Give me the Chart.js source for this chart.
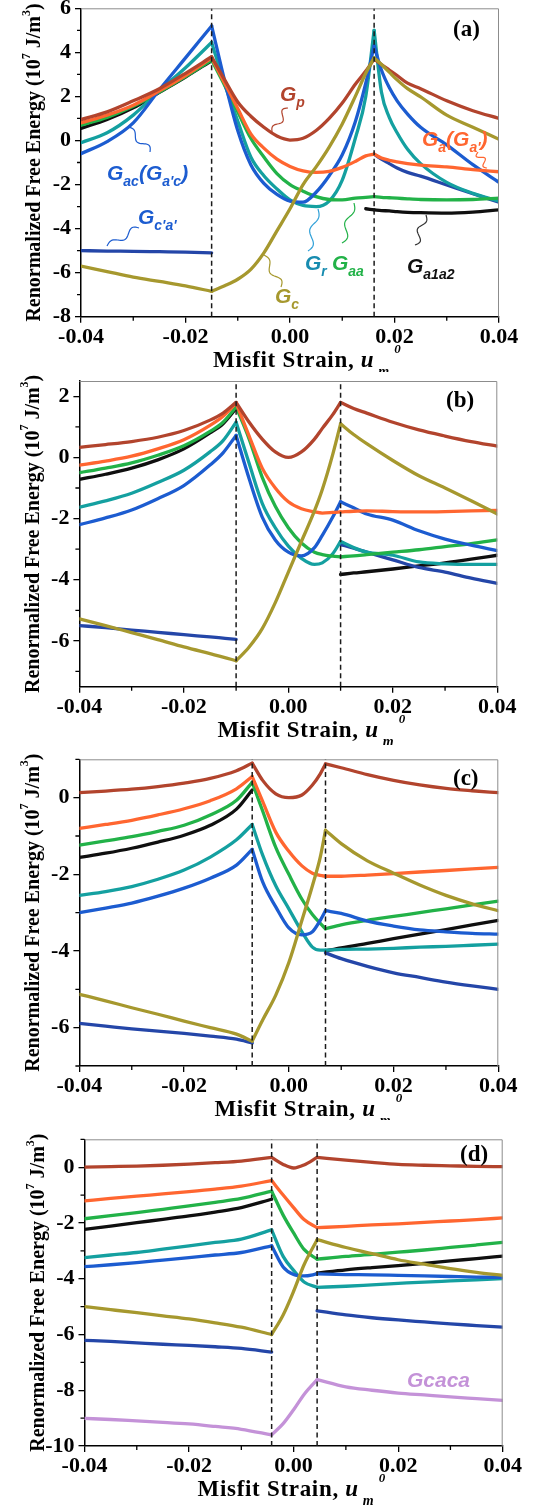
<!DOCTYPE html>
<html>
<head>
<meta charset="utf-8">
<script src="https://cdn.jsdelivr.net/npm/chart.js@4.4.1/dist/chart.umd.min.js"></script>
<style>
  html, body { margin: 0; padding: 0; background: #fff; }
  #page { position: relative; width: 534px; height: 1509px; overflow: hidden; }
  canvas { position: absolute; left: 0; }
</style>
</head>
<body>
<div id="page">
  <canvas id="panelA" width="534" height="372" style="top:0px;width:534px;height:372px"></canvas>
  <canvas id="panelB" width="534" height="373" style="top:372px;width:534px;height:373px"></canvas>
  <canvas id="panelC" width="534" height="375" style="top:745px;width:534px;height:375px"></canvas>
  <canvas id="panelD" width="534" height="389" style="top:1120px;width:534px;height:389px"></canvas>
</div>
<script>
// shared x axis
const xTicks = [-0.04, -0.02, 0, 0.02, 0.04];
const xMinor = [-0.03, -0.01, 0.01, 0.03];

// ---- panel (a) ----
const aStrain = [-0.04, -0.035, -0.03, -0.025, -0.02, -0.015, -0.0125, -0.01, -0.0075, -0.005, -0.0025, 0, 0.0025, 0.005, 0.0075, 0.01, 0.0125, 0.0145, 0.0161, 0.0175, 0.019, 0.0205, 0.0225, 0.025, 0.03, 0.035, 0.04];
const aGp    = [0.95, 1.3, 1.8, 2.35, 3.05, 3.8, 2.75, 1.75, 1.1, 0.6, 0.2, 0.02, 0.1, 0.45, 1.0, 1.7, 2.55, 3.15, 3.7, 3.45, 3.2, 2.95, 2.6, 2.35, 1.8, 1.35, 1.0];
const aGa    = [0.8, 1.15, 1.6, 2.25, 2.95, 3.75, 2.6, 1.45, 0.3, -0.35, -0.85, -1.18, -1.38, -1.45, -1.4, -1.22, -0.95, -0.7, -0.62, -0.8, -0.9, -0.97, -1.05, -1.12, -1.2, -1.32, -1.42];
const aGaa   = [0.7, 1.05, 1.55, 2.2, 2.9, 3.65, 2.5, 1.3, 0.1, -0.75, -1.5, -2.0, -2.3, -2.55, -2.68, -2.7, -2.62, -2.58, -2.55, -2.58, -2.6, -2.62, -2.65, -2.68, -2.7, -2.68, -2.62];
const aGa1a2 = [0.55, 0.95, 1.48, 2.18, 2.88, 3.62, null, null, null, null, null, null, null, null, null, null, null, -3.1, -3.15, -3.18, -3.2, -3.23, -3.26, -3.28, -3.3, -3.25, -3.15];
const aGr    = [-0.1, 0.35, 1.15, 2.27, 3.3, 4.45, 2.55, 0.88, -0.75, -1.6, -2.2, -2.7, -2.95, -3.0, -2.75, -1.8, 0.1, 2.0, 5.0, 2.2, 1.05, 0.35, -0.4, -1.05, -1.9, -2.4, -2.75];
const aGac   = [-0.6, -0.05, 0.8, 2.3, 3.75, 5.2, 2.7, 0.45, -1.1, -1.95, -2.45, -2.75, -2.8, -2.35, -1.6, -0.65, 0.85, 2.6, 4.3, 3.2, 2.4, 1.8, 1.2, 0.6, -0.2, -1.1, -1.9];
const aGca   = [-5.0, -5.02, -5.03, -5.05, -5.07, -5.1, null, null, null, null, null, null, null, null, null, null, null, null, -0.62, -0.85, -1.05, -1.25, -1.45, -1.62, -2.02, -2.42, -2.8];
const aGc    = [-5.7, -5.95, -6.2, -6.4, -6.6, -6.85, -6.6, -6.3, -5.85, -5.1, -4.1, -3.1, -2.0, -1.2, -0.3, 0.75, 2.0, 3.05, 3.75, 3.45, 3.1, 2.75, 2.35, 1.98, 1.15, 0.6, 0.05];
const aKinks = [-0.015, 0.0161];
const aYRange = [-8, 6];
const aYTicks = [-8, -6, -4, -2, 0, 2, 4, 6];
const aYMinor = [-7, -5, -3, -1, 1, 3, 5];

// ---- panel (b) ----
const bStrain = [-0.04, -0.035, -0.03, -0.025, -0.02, -0.015, -0.0125, -0.01, -0.0075, -0.005, -0.0025, 0, 0.0025, 0.005, 0.0065, 0.0085, 0.01, 0.0125, 0.015, 0.02, 0.025, 0.03, 0.035, 0.04];
const bGp    = [0.33, 0.42, 0.52, 0.66, 0.88, 1.22, 1.45, 1.8, 1.15, 0.6, 0.18, 0.0, 0.18, 0.6, 0.95, 1.4, 1.8, 1.6, 1.45, 1.15, 0.9, 0.7, 0.52, 0.37];
const bGa    = [-0.25, -0.12, 0.04, 0.28, 0.58, 1.05, 1.35, 1.78, 0.7, -0.35, -1.0, -1.45, -1.68, -1.78, -1.82, -1.8, -1.78, -1.76, -1.75, -1.77, -1.78, -1.77, -1.75, -1.73];
const bGaa   = [-0.5, -0.35, -0.18, 0.07, 0.38, 0.85, 1.15, 1.65, 0.6, -0.65, -1.6, -2.3, -2.8, -3.1, -3.18, -3.23, -3.25, -3.22, -3.18, -3.1, -3.02, -2.92, -2.82, -2.7];
const bGa1a2 = [-0.72, -0.55, -0.35, -0.08, 0.28, 0.8, 1.1, 1.6, null, null, null, null, null, null, null, null, -3.83, -3.78, -3.74, -3.65, -3.55, -3.45, -3.33, -3.2];
const bGr    = [-1.63, -1.42, -1.17, -0.82, -0.42, 0.18, 0.55, 1.15, -0.2, -1.5, -2.3, -2.9, -3.3, -3.5, -3.45, -3.15, -2.75, -2.95, -3.1, -3.2, -3.42, -3.48, -3.5, -3.5];
const bGac   = [-2.2, -1.98, -1.72, -1.35, -0.92, -0.25, 0.15, 0.72, -0.7, -1.95, -2.7, -3.1, -3.22, -2.95, -2.55, -1.95, -1.45, -1.65, -1.85, -2.05, -2.4, -2.67, -2.87, -3.05];
const bGca   = [-5.5, -5.57, -5.65, -5.72, -5.8, -5.87, -5.91, -5.95, null, null, null, null, null, null, null, null, -2.85, -2.97, -3.1, -3.35, -3.6, -3.75, -3.95, -4.12];
const bGc    = [-5.28, -5.5, -5.73, -5.96, -6.2, -6.42, -6.53, -6.65, -6.2, -5.6, -4.75, -3.75, -2.75, -1.75, -1.05, 0.1, 1.1, 0.75, 0.45, -0.1, -0.6, -1.0, -1.42, -1.85];
const bKinks = [-0.01, 0.01];
const bYRange = [-7.5, 2.5];
const bYTicks = [-6, -4, -2, 0, 2];
const bYMinor = [-7, -5, -3, -1, 1];

// ---- panel (c) ----
const cStrain = [-0.04, -0.035, -0.03, -0.025, -0.02, -0.015, -0.01, -0.007, -0.005, -0.0025, 0, 0.0025, 0.0045, 0.006, 0.007, 0.01, 0.015, 0.02, 0.025, 0.03, 0.035, 0.04];
const cGp    = [0.13, 0.17, 0.22, 0.29, 0.38, 0.5, 0.7, 0.9, 0.45, 0.1, 0.0, 0.07, 0.33, 0.62, 0.88, 0.78, 0.6, 0.45, 0.33, 0.24, 0.18, 0.13];
const cGa    = [-0.8, -0.7, -0.59, -0.45, -0.29, -0.08, 0.23, 0.55, -0.1, -0.9, -1.4, -1.78, -1.97, -2.03, -2.05, -2.05, -2.02, -1.98, -1.94, -1.9, -1.86, -1.82];
const cGaa   = [-1.24, -1.13, -1.02, -0.88, -0.72, -0.45, -0.07, 0.4, -0.35, -1.3, -2.0, -2.65, -3.05, -3.28, -3.42, -3.32, -3.2, -3.1, -3.0, -2.9, -2.8, -2.7];
const cGa1a2 = [-1.56, -1.45, -1.32, -1.16, -0.98, -0.72, -0.3, 0.2, null, null, null, null, null, null, -4.0, -3.92, -3.8, -3.68, -3.56, -3.44, -3.32, -3.2];
const cGr    = [-2.55, -2.45, -2.32, -2.13, -1.89, -1.55, -1.1, -0.7, -1.5, -2.3, -2.9, -3.5, -3.9, -3.98, -3.98, -3.96, -3.95, -3.93, -3.9, -3.88, -3.85, -3.82];
const cGac   = [-3.0, -2.88, -2.75, -2.57, -2.36, -2.1, -1.76, -1.35, -2.2, -2.85, -3.4, -3.58, -3.5, -3.2, -2.95, -3.02, -3.22, -3.35, -3.45, -3.5, -3.54, -3.56];
const cGca   = [-5.89, -5.96, -6.03, -6.09, -6.15, -6.22, -6.3, -6.4, null, null, null, null, null, null, -4.05, -4.2, -4.4, -4.57, -4.69, -4.81, -4.91, -5.0];
const cGc    = [-5.13, -5.3, -5.48, -5.65, -5.83, -6.0, -6.17, -6.35, -5.8, -5.15, -4.3, -3.2, -2.3, -1.55, -0.85, -1.2, -1.65, -1.97, -2.28, -2.55, -2.77, -2.95];
const cKinks = [-0.007, 0.007];
const cYRange = [-7, 1];
const cYTicks = [-6, -4, -2, 0];
const cYMinor = [-7, -5, -3, -1, 1];

// ---- panel (d) ----
const dStrain = [-0.04, -0.035, -0.03, -0.025, -0.02, -0.015, -0.01, -0.0042, -0.002, 0, 0.002, 0.0045, 0.01, 0.015, 0.02, 0.025, 0.03, 0.035, 0.04];
const dGp    = [0.0, 0.02, 0.04, 0.07, 0.11, 0.16, 0.22, 0.35, 0.1, -0.03, 0.08, 0.35, 0.25, 0.17, 0.1, 0.07, 0.05, 0.03, 0.02];
const dGa    = [-1.21, -1.12, -1.04, -0.96, -0.88, -0.79, -0.68, -0.48, -1.0, -1.45, -1.88, -2.17, -2.12, -2.07, -2.03, -1.98, -1.93, -1.88, -1.82];
const dGaa   = [-1.85, -1.74, -1.63, -1.51, -1.39, -1.26, -1.12, -0.86, -1.72, -2.36, -2.95, -3.3, -3.2, -3.13, -3.05, -2.97, -2.88, -2.79, -2.7];
const dGa1a2 = [-2.23, -2.11, -1.99, -1.87, -1.75, -1.61, -1.45, -1.15, null, null, null, -3.8, -3.68, -3.6, -3.53, -3.45, -3.36, -3.28, -3.19];
const dGr    = [-3.24, -3.15, -3.06, -2.94, -2.82, -2.7, -2.58, -2.25, -3.2, -3.7, -4.12, -4.31, -4.27, -4.22, -4.17, -4.12, -4.08, -4.04, -4.0];
const dGac   = [-3.57, -3.5, -3.42, -3.33, -3.24, -3.15, -3.06, -2.82, -3.58, -3.85, -3.9, -3.83, -3.85, -3.86, -3.88, -3.9, -3.92, -3.94, -3.95];
const dGca   = [-6.21, -6.25, -6.3, -6.35, -6.39, -6.44, -6.5, -6.63, null, null, null, -5.15, -5.3, -5.4, -5.48, -5.55, -5.62, -5.68, -5.74];
const dGc    = [-5.0, -5.11, -5.22, -5.33, -5.44, -5.58, -5.74, -6.0, -5.3, -4.45, -3.5, -2.6, -2.88, -3.1, -3.32, -3.48, -3.64, -3.77, -3.88];
const dGcaca = [-9.01, -9.05, -9.1, -9.15, -9.21, -9.3, -9.4, -9.6, -9.2, -8.7, -8.15, -7.62, -7.88, -8.0, -8.1, -8.17, -8.24, -8.3, -8.36];
const dKinks = [-0.0042, 0.0045];
const dYRange = [-10, 1];
const dYTicks = [-10, -8, -6, -4, -2, 0];
const dYMinor = [-9, -7, -5, -3, -1, 1];

// ---- styles ----
const SERIF = '"Liberation Serif", "Times New Roman", serif';
const SANS = '"Liberation Sans", Arial, sans-serif';
const colors = {
  Gp: 'rgb(178,68,45)',
  Ga: 'rgb(255,102,48)',
  Gaa: 'rgb(34,178,72)',
  Ga1a2: 'rgb(15,15,15)',
  Gr: 'rgb(20,160,160)',
  Gac: 'rgb(28,92,208)',
  Gca: 'rgb(36,70,168)',
  Gc: 'rgb(166,152,46)',
  Gcaca: 'rgb(196,146,216)'
};
// first entry is drawn on top
const drawOrder = ['Gc', 'Gp', 'Ga', 'Gac', 'Gaa', 'Gr', 'Gca', 'Ga1a2', 'Gcaca'];

const BIG = 'italic bold 21px ' + SANS;
const SMALL = 'italic bold 14px ' + SANS;
function gText(pieces) {
  return pieces.map(([t, sub]) => ({ t, font: sub ? SMALL : BIG, dy: sub ? 6 : 0 }));
}

const aNotes = [
  { parts: gText([['G'], ['p', 1]]), x: 280, y: 101, color: colors.Gp, arrow: [288, 108, 272, 132], arrowColor: colors.Gp },
  { parts: gText([['G'], ['a', 1], ['(G'], ["a'", 1], [')']]), x: 422, y: 146, color: colors.Ga, arrow: [478, 152, 487, 168], arrowColor: colors.Ga },
  { parts: gText([['G'], ['ac', 1], ['(G'], ["a'c", 1], [')']]), x: 107, y: 180, color: colors.Gac, arrow: [150, 152, 128, 127], arrowColor: colors.Gac },
  { parts: gText([['G'], ["c'a'", 1]]), x: 138, y: 224, color: colors.Gac, arrow: [139, 228, 107, 246], arrowColor: colors.Gac },
  { parts: gText([['G'], ['c', 1]]), x: 275, y: 303, color: colors.Gc, arrow: [281, 287, 264, 255], arrowColor: colors.Gc },
  { parts: gText([['G'], ['r', 1]]), x: 305, y: 270, color: 'rgb(24,140,176)', arrow: [308, 251, 318, 209], arrowColor: 'rgb(48,160,216)' },
  { parts: gText([['G'], ['aa', 1]]), x: 332, y: 270, color: colors.Gaa, arrow: [342, 243, 354, 203], arrowColor: colors.Gaa },
  { parts: gText([['G'], ['a1a2', 1]]), x: 407, y: 273, color: '#111', arrow: [415, 245, 426, 215], arrowColor: '#333' }
];
const dNotes = [
  { parts: [{ t: 'Gcaca', font: BIG, dy: 0 }], x: 407, y: 267, color: colors.Gcaca }
];

const panels = [
  { id: 'panelA', strain: aStrain, kinks: aKinks, yRange: aYRange, yTicks: aYTicks, yMinor: aYMinor,
    series: { Gp: aGp, Ga: aGa, Gaa: aGaa, Ga1a2: aGa1a2, Gr: aGr, Gac: aGac, Gca: aGca, Gc: aGc },
    label: '(a)', labelPos: [453, 36], box: { left: 81, right: 35, top: 8.3, xh: 55.3 }, xTitleX: 132, notes: aNotes },
  { id: 'panelB', strain: bStrain, kinks: bKinks, yRange: bYRange, yTicks: bYTicks, yMinor: bYMinor,
    series: { Gp: bGp, Ga: bGa, Gaa: bGaa, Ga1a2: bGa1a2, Gr: bGr, Gac: bGac, Gca: bGca, Gc: bGc },
    label: '(b)', labelPos: [446, 35], box: { left: 79.4, right: 36.7, top: 9, xh: 58.3 }, xTitleX: 138, notes: [] },
  { id: 'panelC', strain: cStrain, kinks: cKinks, yRange: cYRange, yTicks: cYTicks, yMinor: cYMinor,
    series: { Gp: cGp, Ga: cGa, Gaa: cGaa, Ga1a2: cGa1a2, Gr: cGr, Gac: cGac, Gca: cGca, Gc: cGc },
    label: '(c)', labelPos: [453, 40], box: { left: 79.4, right: 35.7, top: 14.3, xh: 54 }, xTitleX: 135, notes: [] },
  { id: 'panelD', strain: dStrain, kinks: dKinks, yRange: dYRange, yTicks: dYTicks, yMinor: dYMinor,
    series: { Gp: dGp, Ga: dGa, Gaa: dGaa, Ga1a2: dGa1a2, Gr: dGr, Gac: dGac, Gca: dGca, Gc: dGc, Gcaca: dGcaca },
    label: '(d)', labelPos: [460, 41], box: { left: 84.5, right: 31.3, top: 19.3, xh: 63 }, xTitleX: 113, notes: dNotes }
];

function drawParts(ctx, parts, x, y, center) {
  let w = 0;
  parts.forEach(p => { ctx.font = p.font; w += ctx.measureText(p.t).width; });
  let cx = center ? x - w / 2 : x;
  parts.forEach(p => {
    ctx.font = p.font;
    ctx.fillText(p.t, cx, y + (p.dy || 0));
    cx += ctx.measureText(p.t).width;
  });
}

function squiggle(ctx, x1, y1, x2, y2, color) {
  const dx = x2 - x1, dy = y2 - y1, len = Math.hypot(dx, dy);
  const nx = -dy / len, ny = dx / len;
  ctx.strokeStyle = color;
  ctx.lineWidth = 1.2;
  ctx.beginPath();
  for (let i = 0; i <= 30; i++) {
    const t = i / 30;
    const off = 4 * Math.sin(t * Math.PI * 3) * (1 - 0.4 * t);
    const px = x1 + dx * t + nx * off, py = y1 + dy * t + ny * off;
    if (i === 0) ctx.moveTo(px, py); else ctx.lineTo(px, py);
  }
  ctx.stroke();
}

// split a curve at the transition strains (and at gaps) so each smooth branch keeps its sharp cusp
function branches(xs, ys, kinks) {
  const edges = [-Infinity, kinks[0], kinks[1], Infinity];
  const out = [];
  for (let b = 0; b < 3; b++) {
    let run = [];
    xs.forEach((x, i) => {
      if (x < edges[b] - 1e-9 || x > edges[b + 1] + 1e-9) return;
      if (ys[i] === null) {
        if (run.length > 1) out.push(run);
        run = [];
      } else {
        run.push({ x: x, y: ys[i] });
      }
    });
    if (run.length > 1) out.push(run);
  }
  return out;
}

function makePanel(p) {
  const datasets = [];
  p.kinks.forEach(k => datasets.push({
    data: [{ x: k, y: p.yRange[0] }, { x: k, y: p.yRange[1] }],
    borderColor: '#1a1a1a', borderWidth: 1.5, borderDash: [5, 3.5], pointRadius: 0, tension: 0
  }));
  drawOrder.forEach(key => {
    const ys = p.series[key];
    if (!ys) return;
    branches(p.strain, ys, p.kinks).forEach(pts => datasets.push({
      data: pts,
      borderColor: colors[key], borderWidth: 3.3, pointRadius: 0,
      cubicInterpolationMode: 'monotone',
      borderJoinStyle: 'round', borderCapStyle: 'round'
    }));
  });

  const decor = {
    id: 'decor',
    afterDraw(chart) {
      const ctx = chart.ctx, a = chart.chartArea, xs = chart.scales.x, ys = chart.scales.y;
      ctx.save();
      // thin grey frame on top and right
      ctx.strokeStyle = '#8c8c8c';
      ctx.lineWidth = 1;
      ctx.beginPath();
      ctx.moveTo(a.left, a.top + 0.5);
      ctx.lineTo(a.right - 0.5, a.top + 0.5);
      ctx.lineTo(a.right - 0.5, a.bottom);
      ctx.stroke();
      // minor ticks
      ctx.strokeStyle = '#000';
      ctx.lineWidth = 1.3;
      ctx.beginPath();
      xMinor.forEach(v => { const px = xs.getPixelForValue(v); ctx.moveTo(px, a.bottom); ctx.lineTo(px, a.bottom + 4); });
      p.yMinor.forEach(v => { const py = ys.getPixelForValue(v); ctx.moveTo(a.left - 4, py); ctx.lineTo(a.left, py); });
      ctx.stroke();

      ctx.fillStyle = '#000';
      ctx.textBaseline = 'alphabetic';
      // y title
      ctx.save();
      ctx.translate(a.left - 46, (a.top + a.bottom) / 2);
      ctx.rotate(-Math.PI / 2);
      ctx.textBaseline = 'middle';
      const yf = 'bold 20px ' + SERIF, ys2 = 'bold 12px ' + SERIF;
      drawParts(ctx, [
        { t: 'Renormalized Free Energy (10', font: yf },
        { t: '7', font: ys2, dy: -8 },
        { t: ' J/m', font: yf },
        { t: '3', font: ys2, dy: -8 },
        { t: ')', font: yf }
      ], 0, 0, true);
      ctx.restore();
      // x title
      const bx = a.left + p.xTitleX, by = a.bottom + 50;
      ctx.letterSpacing = '0.7px';
      ctx.font = 'bold 23px ' + SERIF;
      const w1 = ctx.measureText('Misfit Strain, ').width;
      ctx.fillText('Misfit Strain, ', bx, by);
      ctx.font = 'italic bold 23px ' + SERIF;
      const w2 = ctx.measureText('u').width;
      ctx.fillText('u', bx + w1, by);
      ctx.letterSpacing = '0px';
      ctx.font = 'italic bold 14px ' + SERIF;
      ctx.fillText('m', bx + w1 + w2 + 4, by + 9);
      ctx.font = 'italic bold 13px ' + SERIF;
      ctx.fillText('0', bx + w1 + w2 + 20, by - 14);
      // panel label
      ctx.font = 'bold 23px ' + SERIF;
      ctx.fillText(p.label, p.labelPos[0], p.labelPos[1]);
      // annotations
      p.notes.forEach(n => {
        if (n.arrow) squiggle(ctx, n.arrow[0], n.arrow[1], n.arrow[2], n.arrow[3], n.arrowColor);
        ctx.fillStyle = n.color;
        drawParts(ctx, n.parts, n.x, n.y, false);
      });
      ctx.restore();
    }
  };

  const tickFont = { family: SERIF, size: 22, weight: 'bold' };
  new Chart(document.getElementById(p.id), {
    type: 'line',
    data: { datasets: datasets },
    options: {
      responsive: false,
      animation: false,
      events: [],
      layout: { autoPadding: false, padding: { top: p.box.top, right: p.box.right, left: 0, bottom: 0 } },
      plugins: { legend: { display: false }, tooltip: { enabled: false } },
      scales: {
        x: {
          type: 'linear', min: -0.04, max: 0.04,
          afterBuildTicks: s => { s.ticks = xTicks.map(v => ({ value: v })); },
          afterFit: s => { s.height = p.box.xh; s.paddingLeft = 0; s.paddingRight = 0; },
          ticks: { callback: v => v.toFixed(2), font: tickFont, color: '#000', padding: 1, maxRotation: 0, autoSkip: false },
          grid: { drawOnChartArea: false, tickLength: 6, color: '#000', lineWidth: 1.3 },
          border: { color: '#000', width: 1.5 }
        },
        y: {
          type: 'linear', min: p.yRange[0], max: p.yRange[1],
          afterBuildTicks: s => { s.ticks = p.yTicks.map(v => ({ value: v })); },
          afterFit: s => { s.width = p.box.left; s.paddingTop = 0; s.paddingBottom = 0; },
          ticks: { callback: v => String(v), font: tickFont, color: '#000', padding: 4, autoSkip: false },
          grid: { drawOnChartArea: false, tickLength: 6, color: '#000', lineWidth: 1.3 },
          border: { color: '#000', width: 1.5 }
        }
      }
    },
    plugins: [decor]
  });
}

panels.forEach(makePanel);
</script>
</body>
</html>
